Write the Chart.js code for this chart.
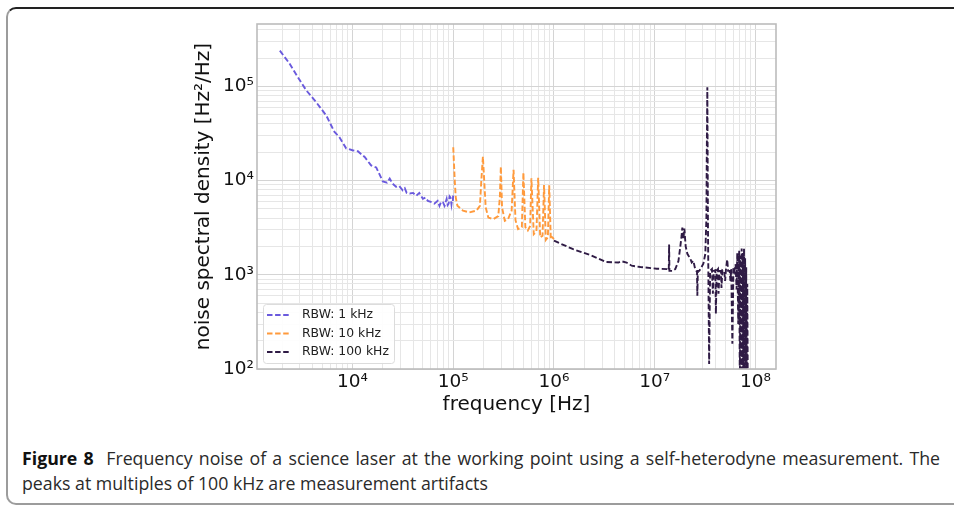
<!DOCTYPE html>
<html>
<head>
<meta charset="utf-8">
<script src="https://cdn.jsdelivr.net/npm/chart.js@4.4.0/dist/chart.umd.min.js"></script>
<style>
  html, body { margin: 0; padding: 0; background: #fff; }
  body { width: 954px; height: 506px; position: relative; overflow: hidden; }
  #frame { position: absolute; left: 6px; top: 7px; width: 990px; height: 498px; box-sizing: border-box;
           border-top: 2px solid #222; border-left: 2px solid #9c9c9c; border-bottom: 2px solid #9c9c9c;
           border-radius: 10px 0 0 10px; }
  #wrap { position: absolute; left: 0; top: 0; width: 954px; height: 440px; }
  #caption { position: absolute; left: 22px; top: 445px; font-family: "Open Sans", "Liberation Sans", sans-serif;
             font-size: 18.5px; line-height: 25px; color: #2a2a2a; white-space: nowrap; transform-origin: 0 0; }
  #l1 { text-align: justify; text-align-last: justify; }
  #caption b { color: #111; }
</style>
</head>
<body>
<div id="frame"></div>
<div id="wrap"><canvas id="grafico" width="954" height="440"></canvas></div>
<div id="caption"><div id="l1"><span id="s1"><b>Figure 8</b>&nbsp; Frequency noise of a science laser at the working point using a self-heterodyne measurement. The</span></div><div id="l2"><span id="s2">peaks at multiples of 100 kHz are measurement artifacts</span></div></div>
<script>
// RBW 1 kHz
const freq1k = [1.9e3, 2.36e3, 2.86e3, 3.47e3, 4.36e3, 5.5e3, 6.6e3, 7.4e3, 8.65e3, 1.0e4, 1.13e4, 1.32e4,
  1.53e4, 1.72e4, 2.0e4, 2.2e4, 2.34e4, 2.5e4, 2.7e4, 2.9e4, 3.15e4, 3.3e4, 3.45e4, 3.7e4, 4.0e4, 4.3e4,
  4.6e4, 5.0e4, 5.3e4, 5.6e4, 6.1e4, 6.5e4, 7.0e4, 7.3e4, 7.6e4, 7.9e4, 8.2e4, 8.6e4, 8.8e4, 9.0e4, 9.2e4,
  9.4e4, 9.6e4, 9.7e4, 9.9e4, 1.0e5];
const psd1k = [2.4e5, 1.76e5, 1.26e5, 9.1e4, 6.8e4, 4.9e4, 3.3e4, 2.9e4, 2.2e4, 2.1e4, 2.05e4, 1.78e4,
  1.45e4, 1.38e4, 9.8e3, 9.5e3, 1.05e4, 9.3e3, 8.6e3, 8.8e3, 7.9e3, 8.3e3, 7.4e3, 7.3e3, 7.4e3, 6.9e3,
  7.4e3, 6.4e3, 6.6e3, 6.1e3, 5.9e3, 5.7e3, 6.1e3, 5.4e3, 6.0e3, 5.9e3, 5.4e3, 6.4e3, 5.5e3, 5.7e3, 6.8e3,
  6.6e3, 5.6e3, 6.1e3, 6.0e3, 7.2e3];

// RBW 10 kHz
const freq10k = [1.0e5, 1.035e5, 1.06e5, 1.1e5, 1.25e5, 1.45e5, 1.7e5, 1.84e5, 1.9e5, 1.97e5, 2.03e5, 2.1e5,
  2.23e5, 2.5e5, 2.8e5, 2.9e5, 2.97e5, 3.05e5, 3.25e5, 3.5e5, 3.8e5, 3.97e5, 4.15e5, 4.4e5, 4.8e5, 4.97e5,
  5.2e5, 5.5e5, 5.8e5, 5.97e5, 6.3e5, 6.7e5, 6.97e5, 7.3e5, 7.7e5, 7.97e5, 8.3e5, 8.7e5, 8.97e5, 9.3e5,
  9.6e5, 1.0e6];
const psd10k = [2.26e4, 1.0e4, 6.6e3, 5.4e3, 4.8e3, 4.6e3, 4.8e3, 5.4e3, 1.0e4, 1.8e4, 1.0e4, 5.2e3,
  4.05e3, 3.9e3, 4.2e3, 6.6e3, 1.41e4, 5.2e3, 3.75e3, 3.9e3, 4.8e3, 1.3e4, 3.8e3, 3.06e3, 3.2e3, 1.22e4,
  3.2e3, 2.95e3, 3.3e3, 1.06e4, 2.7e3, 2.9e3, 1.07e4, 2.5e3, 2.6e3, 9.0e3, 2.35e3, 2.5e3, 8.9e3, 2.4e3,
  2.5e3, 2.4e3];

// RBW 100 kHz
const freq100k = [1.0e6, 1.55e6, 2.3e6, 3.3e6, 4.36e6, 4.7e6, 5.26e6, 5.9e6, 7.2e6, 1.05e7, 1.33e7,
  1.38e7, 1.39e7, 1.4e7, 1.5e7, 1.6e7, 1.72e7, 1.79e7, 1.85e7, 1.88e7, 1.93e7, 1.97e7, 2.03e7, 2.11e7,
  2.2e7, 2.26e7, 2.33e7, 2.42e7, 2.5e7, 2.59e7, 2.63e7, 2.65e7, 2.68e7, 2.77e7, 2.9e7, 3.04e7, 3.18e7,
  3.26e7, 3.29e7, 3.33e7, 3.38e7, 3.47e7, 3.55e7, 3.7e7, 3.78e7, 3.85e7, 4.0e7, 4.05e7, 4.12e7, 4.25e7,
  4.3e7, 4.4e7, 4.55e7, 4.6e7, 4.7e7, 4.9e7, 5.0e7, 5.1e7, 5.25e7, 5.35e7, 5.55e7, 5.65e7, 5.75e7, 5.9e7,
  6.05e7, 6.2e7, 6.35e7, 6.5e7, 6.6e7, 6.75e7, 6.9e7, 7.0e7, 7.1e7, 7.2e7, 7.3e7, 7.4e7, 7.5e7, 7.6e7,
  7.7e7, 7.8e7, 7.9e7, 8.0e7, 8.1e7, 8.2e7, 8.3e7, 8.4e7];
const psd100k = [2.3e3, 1.87e3, 1.62e3, 1.37e3, 1.35e3, 1.39e3, 1.35e3, 1.25e3, 1.21e3, 1.16e3, 1.15e3,
  1.12e3, 2.1e3, 1.1e3, 1.1e3, 1.15e3, 1.4e3, 1.94e3, 2.6e3, 3.17e3, 2.4e3, 3.1e3, 2.0e3, 1.67e3,
  1.55e3, 1.48e3, 1.35e3, 1.41e3, 1.2e3, 1.1e3, 1.1e3, 600, 1.1e3, 1.1e3, 1.2e3, 1.31e3, 1.67e3,
  4.0e3, 2.0e4, 9.8e4, 3.0e3, 113, 1.1e3, 1.15e3, 630, 1.1e3, 1.12e3, 385, 1.1e3, 1.15e3,
  630, 1.1e3, 1.1e3, 725, 1.12e3, 1.1e3, 860, 1.15e3, 1.45e3, 1.1e3, 1.1e3, 860, 1.15e3, 185,
  1.2e3, 1.1e3, 1.3e3, 700, 1.7e3, 300, 1.8e3, 60, 1.6e3, 60, 1.9e3, 60, 1.7e3, 60,
  1.9e3, 60, 1.5e3, 60, 1.2e3, 60, 800, 60];

const xMin = 1127, xMax = 1.6e8;
const yMin = 100, yMax = 4.6e5;

const sup = { "0": "⁰", "1": "¹", "2": "²", "3": "³", "4": "⁴", "5": "⁵", "6": "⁶", "7": "⁷", "8": "⁸", "9": "⁹" };

function ehMajor(v) {
  const l = Math.log10(v);
  return Math.abs(l - Math.round(l)) < 1e-6;
}

function ticksLog(min, max) {
  const out = [];
  for (let e = Math.floor(Math.log10(min)); e <= Math.ceil(Math.log10(max)); e++) {
    for (let m = 1; m <= 9; m++) {
      const v = m * Math.pow(10, e);
      if (v >= min * 0.999 && v <= max * 1.001) out.push({ value: v });
    }
  }
  return out;
}

function rotulo(v) {
  if (!ehMajor(v)) return "";
  const e = String(Math.round(Math.log10(v)));
  return "10" + e.split("").map(c => sup[c]).join("");
}

const pontos = (fs, vs) => fs.map((f, i) => ({ x: f, y: vs[i] }));

const legenda = {
  id: "legenda",
  afterDraw(chart) {
    const ctx = chart.ctx;
    const a = chart.chartArea;
    // moldura do eixo
    ctx.save();
    ctx.strokeStyle = "#bcbcbc";
    ctx.lineWidth = 1.6;
    ctx.strokeRect(a.left, a.top, a.right - a.left, a.bottom - a.top);

    const x0 = a.left + 6, y0 = a.bottom - 65, w = 131, h = 59;
    ctx.fillStyle = "rgba(255,255,255,0.9)";
    ctx.strokeStyle = "#dcdcdc";
    ctx.lineWidth = 1;
    ctx.beginPath();
    ctx.roundRect(x0 + 0.5, y0 + 0.5, w, h, 3);
    ctx.fill();
    ctx.stroke();

    ctx.font = "12.4px 'DejaVu Sans'";
    ctx.textBaseline = "middle";
    chart.data.datasets.forEach((ds, i) => {
      const yy = y0 + 11 + i * 18.5;
      ctx.strokeStyle = ds.borderColor;
      ctx.lineWidth = 1.9;
      ctx.setLineDash([5.5, 2.6]);
      ctx.beginPath();
      ctx.moveTo(x0 + 4, yy);
      ctx.lineTo(x0 + 27, yy);
      ctx.stroke();
      ctx.setLineDash([]);
      ctx.fillStyle = "#222";
      ctx.fillText(ds.label, x0 + 39, yy);
    });
    ctx.restore();
  }
};

Chart.defaults.font.family = "'DejaVu Sans'";

const ctx = document.getElementById("grafico").getContext("2d");

let grafico = new Chart(ctx, {
  type: "line",
  data: {
    datasets: [
      { label: "RBW: 1 kHz", data: pontos(freq1k, psd1k), borderColor: "#6a5add" },
      { label: "RBW: 10 kHz", data: pontos(freq10k, psd10k), borderColor: "#ff9a3c" },
      { label: "RBW: 100 kHz", data: pontos(freq100k, psd100k), borderColor: "#2f1b45" }
    ].map(d => Object.assign(d, { borderWidth: 1.9, borderDash: [5.5, 2.6], pointRadius: 0, tension: 0, clip: 0, fill: false }))
  },
  options: {
    responsive: false,
    animation: false,
    layout: { padding: { left: 192, top: 24, right: 178, bottom: 23 } },
    plugins: { legend: { display: false }, tooltip: { enabled: false } },
    scales: {
      x: {
        type: "logarithmic",
        min: xMin,
        max: xMax,
        afterBuildTicks: s => { s.ticks = ticksLog(xMin, xMax); },
        afterFit: s => { s.height = 48; },
        ticks: { autoSkip: false, maxRotation: 0, padding: 2, color: "#111", font: { size: 18.5 }, callback: v => rotulo(v) },
        grid: {
          drawTicks: false,
          color: c => ehMajor(c.tick.value) ? "#d4d4d4" : "#e6e6e6",
          lineWidth: 1
        },
        border: { display: false },
        title: { display: true, text: "frequency [Hz]", color: "#111", font: { size: 20 }, padding: 0 }
      },
      y: {
        type: "logarithmic",
        min: yMin,
        max: yMax,
        afterBuildTicks: s => { s.ticks = ticksLog(yMin, yMax); },
        afterFit: s => { s.width = 65; },
        ticks: { autoSkip: false, padding: 3, color: "#111", font: { size: 18.5 }, callback: v => rotulo(v) },
        grid: {
          drawTicks: false,
          color: c => ehMajor(c.tick.value) ? "#d4d4d4" : "#e6e6e6",
          lineWidth: 1
        },
        border: { display: false },
        title: { display: true, text: "noise spectral density [Hz²/Hz]", color: "#111", font: { size: 20 }, padding: 0 }
      }
    }
  },
  plugins: [legenda]
});

// legenda da figura: escala horizontal comum, primeira linha justificada até 918px
const cap = document.getElementById("caption");
const w1 = document.getElementById("s1").getBoundingClientRect().width;
const w2 = document.getElementById("s2").getBoundingClientRect().width;
const esc = Math.min(1356 / (w1 + w2), 918 / w1);
cap.style.transform = `scaleX(${esc})`;
document.getElementById("l1").style.width = (918 / esc) + "px";
</script>
</body>
</html>
